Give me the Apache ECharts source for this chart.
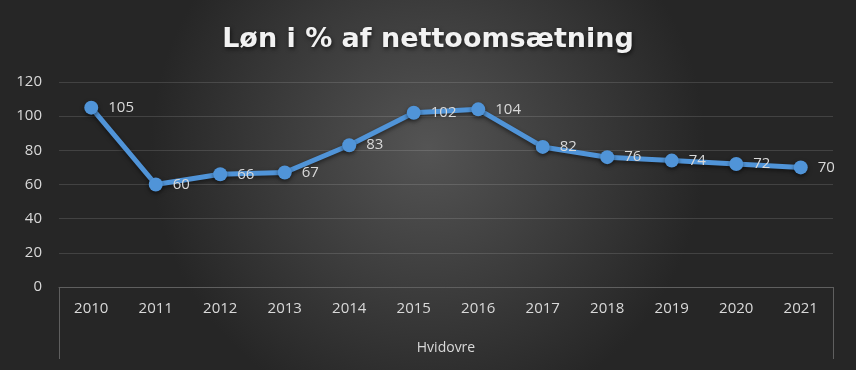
<!DOCTYPE html>
<html><head><meta charset="utf-8">
<script src="https://cdn.jsdelivr.net/npm/echarts@6/dist/echarts.min.js"></script>
<style>html,body{margin:0;padding:0;background:#333}#c{width:856px;height:370px}</style>
</head><body><div id="c"></div>
<script>
const titleText = 'Løn i % af nettoomsætning';
const categories = ['2010','2011','2012','2013','2014','2015','2016','2017','2018','2019','2020','2021'];
const groupLabels = ['Hvidovre'];
const values = [105, 60, 66, 67, 83, 102, 104, 82, 76, 74, 72, 70];
const yTicks = {min: 0, max: 120, interval: 20};

const chart = echarts.init(document.getElementById('c'));
const txt = '#d9d9d9';
chart.setOption({
  backgroundColor: {
    type: 'radial', x: 0.5, y: 0.4, r: 0.75,
    colorStops: [{offset: 0, color: '#545454'}, {offset: 1, color: '#262626'}]
  },
  title: {
    text: titleText, left: 'center', top: 21,
    textStyle: {color: '#f2f2f2', fontFamily: 'DejaVu Sans', fontWeight: 'bold', fontSize: 27,
      textShadowColor: 'rgba(0,0,0,0.6)', textShadowBlur: 4, textShadowOffsetX: 1, textShadowOffsetY: 2}
  },
  grid: {left: 59, right: 23, top: 82, bottom: 83},
  xAxis: [{
    type: 'category', data: categories, position: 'bottom', boundaryGap: true,
    axisLine: {show: true, lineStyle: {color: '#5f5f5f', width: 1}},
    axisTick: {show: false},
    axisLabel: {color: txt, fontFamily: 'Open Sans', fontSize: 15, margin: 14}
  }, {
    type: 'category', data: groupLabels, position: 'bottom', boundaryGap: true,
    axisLine: {show: false},
    axisTick: {show: true, alignWithLabel: false, length: 72, lineStyle: {color: '#5f5f5f', width: 1}},
    axisLabel: {color: txt, fontFamily: 'Open Sans', fontSize: 14, margin: 54}
  }],
  yAxis: {
    type: 'value', min: yTicks.min, max: yTicks.max, interval: yTicks.interval,
    axisLine: {show: false}, axisTick: {show: false},
    axisLabel: {color: txt, fontFamily: 'Open Sans', fontSize: 15, margin: 17},
    splitLine: {lineStyle: {color: 'rgba(255,255,255,0.13)', width: 1}}
  },
  series: [{
    type: 'line', data: values, xAxisIndex: 0,
    symbol: 'circle', symbolSize: 14,
    lineStyle: {color: '#5094d8', width: 5, shadowColor: 'rgba(0,0,0,0.5)', shadowBlur: 4, shadowOffsetY: 2},
    itemStyle: {color: '#5094d8', shadowColor: 'rgba(0,0,0,0.5)', shadowBlur: 4, shadowOffsetY: 2},
    label: {show: true, position: 'right', distance: 10, color: txt, fontFamily: 'Open Sans', fontSize: 15},
    animation: false
  }],
  animation: false
});
</script></body></html>
